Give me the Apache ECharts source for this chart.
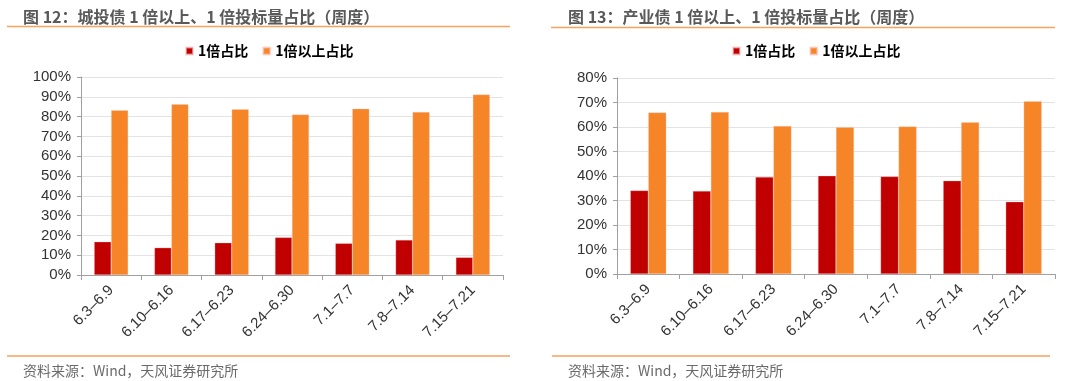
<!DOCTYPE html>
<html><head><meta charset="utf-8">
<script src="https://cdn.jsdelivr.net/npm/echarts@6/dist/echarts.min.js"></script>
<style>html,body{margin:0;padding:0;background:#fff}#c{width:1080px;height:381px}</style>
</head><body><div id="c"></div>
<script>
const categories = ['6.3–6.9','6.10–6.16','6.17–6.23','6.24–6.30','7.1–7.7','7.8–7.14','7.15–7.21'];
const leftOne = [16.8, 13.8, 16.3, 19.0, 16.0, 17.7, 8.9];
const leftAbove = [83.2, 86.2, 83.7, 81.0, 84.0, 82.3, 91.1];
const rightOne = [34.1, 33.9, 39.6, 40.1, 39.8, 38.1, 29.5];
const rightAbove = [65.9, 66.1, 60.4, 59.9, 60.2, 61.9, 70.5];
const leftTicksMax = 100, rightTicksMax = 80;
const titles = ['图 12：城投债 1 倍以上、1 倍投标量占比（周度）','图 13：产业债 1 倍以上、1 倍投标量占比（周度）'];
const sourceText = '资料来源：Wind，天风证券研究所';
const names = ['1倍占比','1倍以上占比'];

const RED = '#C00000', ORANGE = '#F58526', LINE = '#F7A25E';
const cjk = '"Noto Sans CJK SC", sans-serif';
const chart = echarts.init(document.getElementById('c'));

function xAxis(gi){
  return {type:'category', gridIndex:gi, data:categories, boundaryGap:true,
    axisLine:{lineStyle:{color:'#A0A0A0'}},
    axisTick:{show:true, alignWithLabel:false, length:5, lineStyle:{color:'#A0A0A0'}},
    axisLabel:{rotate:45, interval:0, color:'#333', fontSize:15, fontFamily:'"Liberation Sans", Arial, sans-serif', margin:13}};
}
function yAxis(gi, max){
  return {type:'value', gridIndex:gi, min:0, max:max, interval:10,
    axisLine:{show:true, lineStyle:{color:'#A0A0A0'}},
    axisTick:{show:true, length:4, lineStyle:{color:'#A0A0A0'}},
    splitLine:{lineStyle:{color:'#E3E3E3'}},
    axisLabel:{formatter:'{value}%', color:'#333', fontSize:15, fontFamily:'"Liberation Sans", Arial, sans-serif', margin:10}};
}
function bar(name, data, gi, color, w){
  return {name:name, type:'bar', xAxisIndex:gi, yAxisIndex:gi, data:data, barWidth:w, barGap:'0%',
    itemStyle:{color:color, borderColor:'rgba(255,200,200,0.6)', borderWidth:0.5}};
}
const legendCommon = {itemWidth:7, itemHeight:7, itemGap:14, icon:'rect',
  textStyle:{fontSize:14, fontWeight:'bold', color:'#000', fontFamily:cjk}, data:names};

chart.setOption({
  animation:false,
  backgroundColor:'#fff',
  title:[
    {text:titles[0], left:18, top:4, textStyle:{fontSize:16, fontWeight:'bold', color:'#595959', fontFamily:cjk}},
    {text:titles[1], left:563, top:4, textStyle:{fontSize:16, fontWeight:'bold', color:'#595959', fontFamily:cjk}},
    {text:sourceText, left:18, top:359, textStyle:{fontSize:14, fontWeight:'normal', color:'#6A6A6A', fontFamily:cjk}},
    {text:sourceText, left:563, top:359, textStyle:{fontSize:14, fontWeight:'normal', color:'#6A6A6A', fontFamily:cjk}}
  ],
  legend:[
    Object.assign({}, legendCommon, {left:180, top:39}),
    Object.assign({}, legendCommon, {left:727, top:39})
  ],
  graphic:[
    {type:'line', shape:{x1:7,y1:26.5,x2:510,y2:26.5}, style:{stroke:LINE, lineWidth:1.5}},
    {type:'line', shape:{x1:551,y1:27.5,x2:1055,y2:27.5}, style:{stroke:LINE, lineWidth:1.5}},
    {type:'line', shape:{x1:7,y1:356,x2:510,y2:356}, style:{stroke:LINE, lineWidth:1.5}},
    {type:'line', shape:{x1:552,y1:356,x2:1050,y2:356}, style:{stroke:LINE, lineWidth:1.5}}
  ],
  grid:[
    {left:81, right:577, top:77, bottom:106},
    {left:617, right:25, top:78, bottom:107}
  ],
  xAxis:[xAxis(0), xAxis(1)],
  yAxis:[yAxis(0, leftTicksMax), yAxis(1, rightTicksMax)],
  series:[
    bar(names[0], leftOne, 0, RED, 17),
    bar(names[1], leftAbove, 0, ORANGE, 17),
    bar(names[0], rightOne, 1, RED, 18),
    bar(names[1], rightAbove, 1, ORANGE, 18)
  ]
});
</script></body></html>
